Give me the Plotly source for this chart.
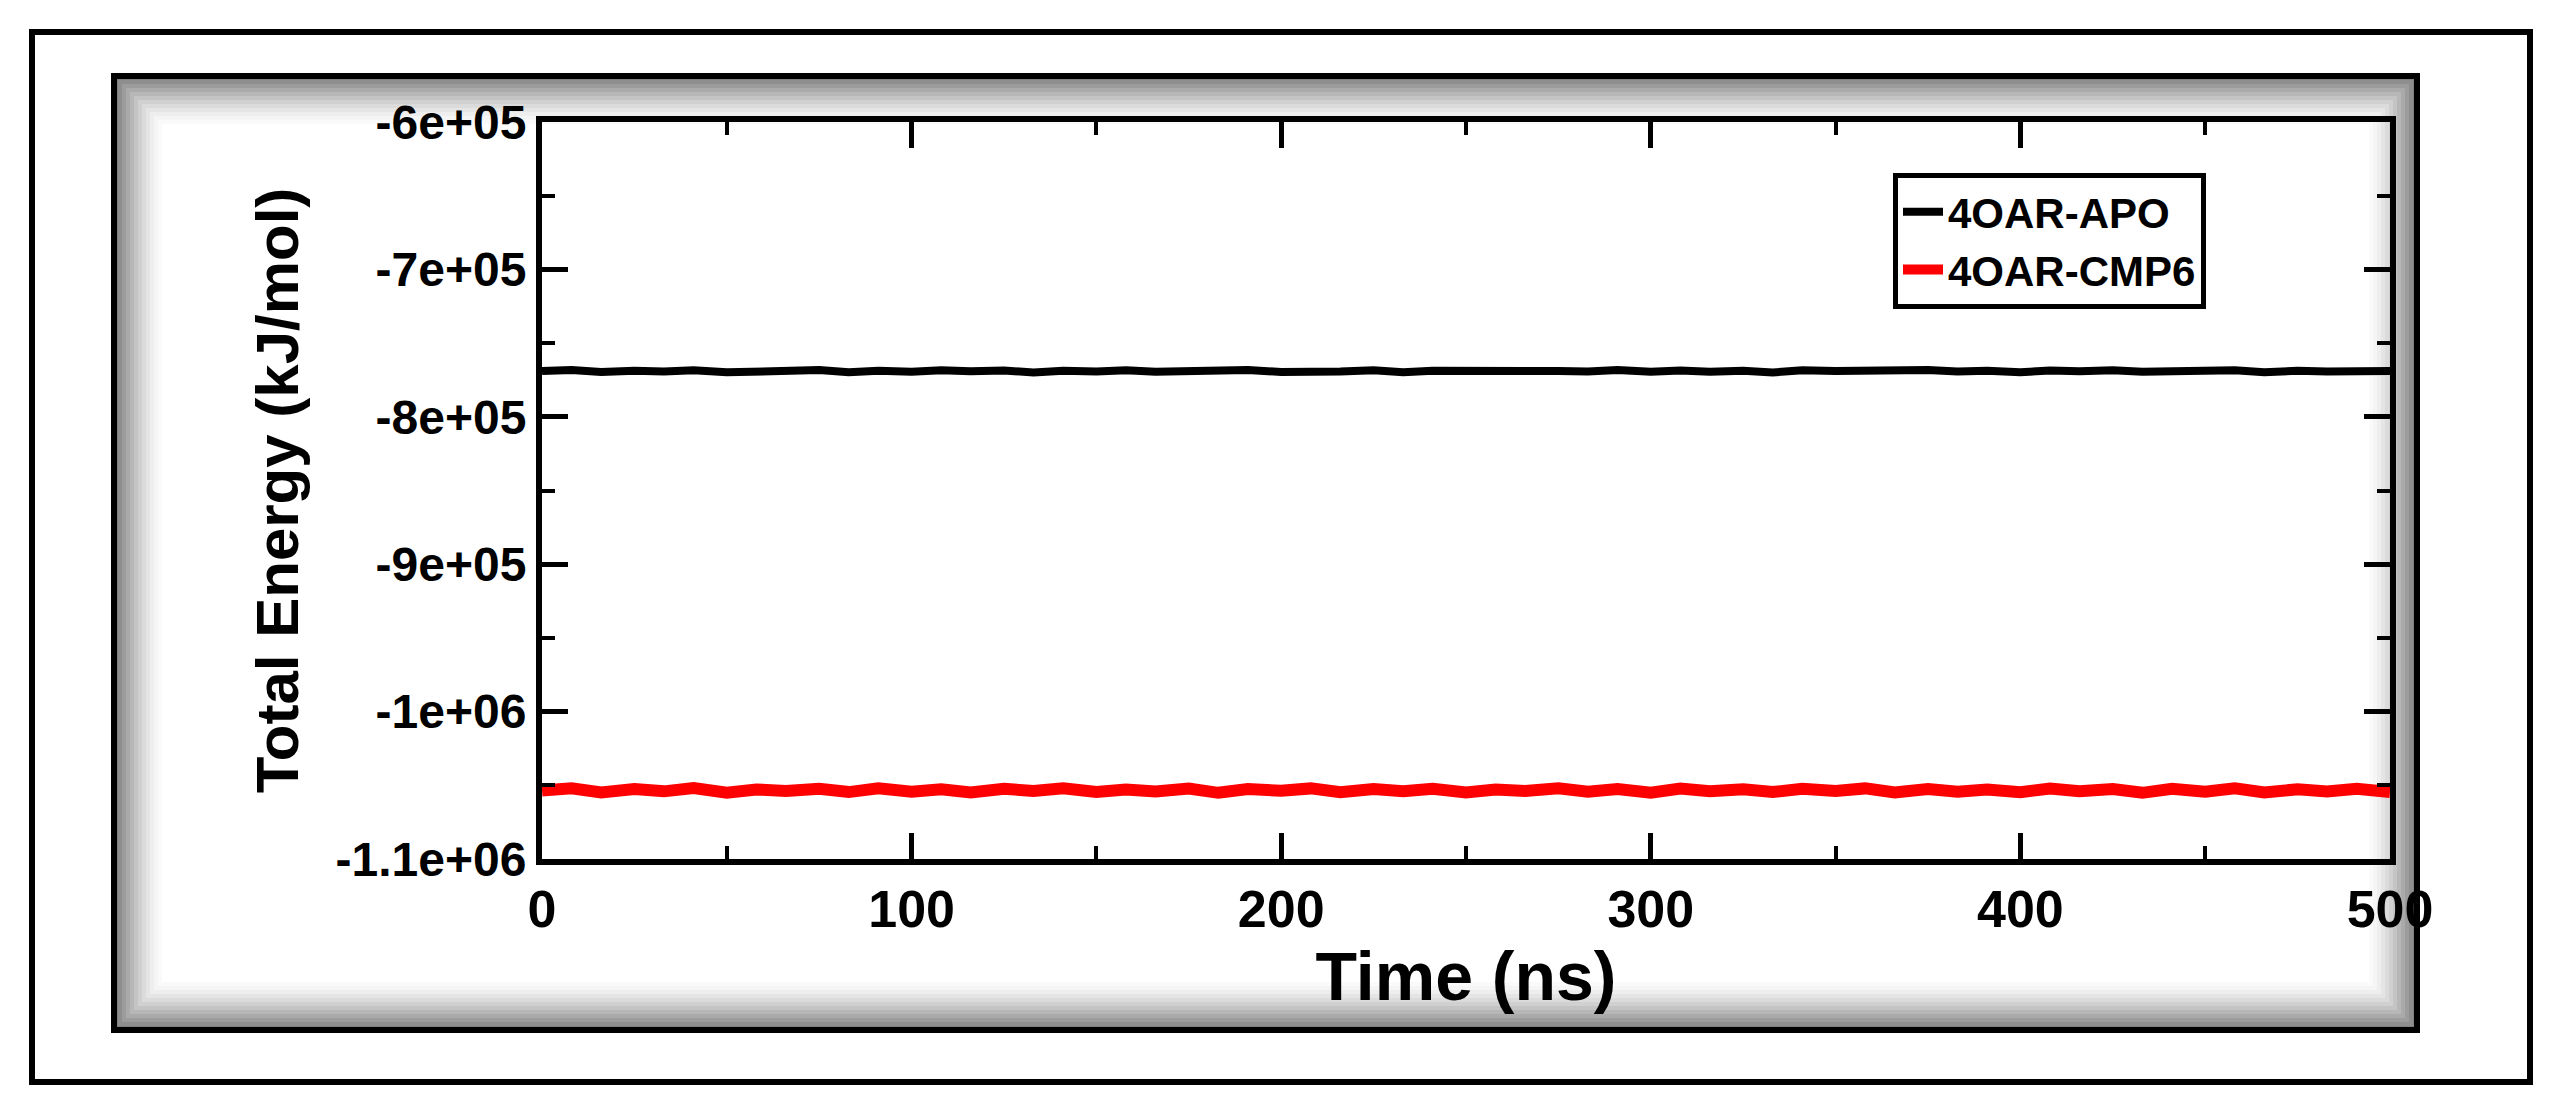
"""Total energy vs time for 4OAR-APO and 4OAR-CMP6."""

import plotly.graph_objects as go

# Time points (ns)
time_ns = [0, 8, 16, 25, 33, 41, 50, 58, 66, 75, 83, 91, 100, 108, 116, 125, 133, 141,
           150, 158, 166, 175, 183, 191, 200, 208, 216, 225, 233, 241, 250, 258, 266,
           275, 283, 291, 300, 308, 316, 325, 333, 341, 350, 358, 366, 375, 383, 391,
           400, 408, 416, 425, 433, 441, 450, 458, 466, 475, 483, 491, 500]

# Total energy (kJ/mol)
apo_energy = [-769000, -768200, -769600, -768700, -769300, -768400, -769800, -768900,
              -769200, -768300, -769700, -768800, -769400, -768500, -769100, -768600,
              -769900, -768700, -769300, -768400, -769500, -768900, -769000, -768200,
              -769600, -768800, -769300, -768500, -769700, -768700, -769100, -768400,
              -769800, -768900, -769200, -768300, -769500, -768600, -769400, -768800,
              -769900, -768500, -769000, -768700, -769600, -768300, -769300, -768800,
              -769700, -768600, -769100, -768400, -769500, -768900, -769200, -768500,
              -769800, -768700, -769300, -768600, -769000]
cmp6_energy = [-1053500, -1052000, -1054800, -1052600, -1054100, -1051900, -1055000,
               -1052800, -1053900, -1052300, -1054600, -1052100, -1054300, -1052700,
               -1054900, -1052400, -1053800, -1052000, -1054500, -1052900, -1054200,
               -1052200, -1055100, -1052600, -1053700, -1052100, -1054700, -1052500,
               -1054000, -1052300, -1054800, -1052800, -1053900, -1052000, -1054400,
               -1052600, -1055000, -1052200, -1054100, -1052700, -1054600, -1052400,
               -1053800, -1052100, -1054900, -1052500, -1054300, -1052800, -1054700,
               -1052200, -1054000, -1052600, -1055100, -1052300, -1054400, -1052000,
               -1054800, -1052700, -1054200, -1052400, -1054500]

y_ticks = [-600000, -700000, -800000, -900000, -1000000, -1100000]
y_tick_labels = ["-6e+05", "-7e+05", "-8e+05", "-9e+05", "-1e+06", "-1.1e+06"]

W, H = 2553, 1099
L, R, T, B = 534, 2382, 114, 851
PW, PH = R - L, B - T


def px(x):
    return (x - L) / PW


def py(y):
    return (B - y) / PH


fig = go.Figure()
fig.add_trace(go.Scatter(x=time_ns, y=apo_energy, mode="lines", name="4OAR-APO",
                         line=dict(color="black", width=8)))
fig.add_trace(go.Scatter(x=time_ns, y=cmp6_energy, mode="lines", name="4OAR-CMP6",
                         line=dict(color="#ff0000", width=12)))

# Frames: outer border, grey vignette, inner border
shapes = [dict(type="rect", xref="paper", yref="paper", x0=px(24), x1=px(2522),
               y0=py(1074), y1=py(24), line=dict(color="black", width=6), layer="below")]
greys = ["#808080", "#8e8e8e", "#9c9c9c", "#aaaaaa", "#b7b7b7", "#c4c4c4", "#d0d0d0",
         "#dbdbdb", "#e5e5e5", "#eeeeee", "#f5f5f5", "#fafafa", "#ffffff"]
for i, g in enumerate(greys):
    d = i * 4
    shapes.append(dict(type="rect", xref="paper", yref="paper",
                       x0=px(106 + d), x1=px(2409 - d), y0=py(1022 - d), y1=py(68 + d),
                       fillcolor=g, line=dict(width=0), layer="below"))
shapes.append(dict(type="rect", xref="paper", yref="paper", x0=px(106), x1=px(2409),
                   y0=py(1022), y1=py(68), line=dict(color="black", width=6), layer="below"))

axis_common = dict(showgrid=False, zeroline=False, showline=True, linecolor="black",
                   linewidth=6, mirror="ticks", ticks="inside", tickwidth=5,
                   ticklen=26, tickcolor="black")

fig.update_layout(
    width=W, height=H,
    margin=dict(l=L, r=W - R, t=T, b=H - B),
    paper_bgcolor="white", plot_bgcolor="white",
    shapes=shapes,
    font=dict(family="Liberation Sans", color="black"),
    legend=dict(x=px(1885), y=py(165), xanchor="left", yanchor="top",
                bgcolor="white", bordercolor="black", borderwidth=5,
                font=dict(size=42, family="Liberation Sans", weight="bold"),
                tracegroupgap=4, itemwidth=40),
    showlegend=True,
)
fig.update_xaxes(range=[0, 500], dtick=100,
                 title=dict(text="<b>Time (ns)</b>", font=dict(size=68), standoff=8),
                 tickfont=dict(family="Liberation Sans", size=52, color="black", weight="bold"),
                 minor=dict(dtick=50, ticks="inside", ticklen=13, tickwidth=4, tickcolor="black"),
                 **axis_common)
fig.update_yaxes(range=[-1100000, -600000], tickvals=y_ticks, ticktext=y_tick_labels,
                 title=dict(text="<b>Total Energy (kJ/mol)</b>", font=dict(size=60), standoff=20),
                 tickfont=dict(family="Liberation Sans", size=48, color="black", weight="bold"),
                 minor=dict(dtick=50000, ticks="inside", ticklen=13, tickwidth=4, tickcolor="black"),
                 **axis_common)

fig.write_html("out.html")
